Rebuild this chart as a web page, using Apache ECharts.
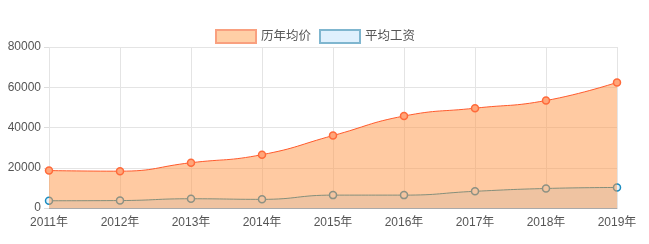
<!DOCTYPE html>
<html><head><meta charset="utf-8">
<script src="https://cdn.jsdelivr.net/npm/echarts@6/dist/echarts.min.js"></script>
<style>html,body{margin:0;padding:0;background:#fff}#c{width:649px;height:244px}</style>
</head><body><div id="c"></div>
<script>
var years = ['2011年','2012年','2013年','2014年','2015年','2016年','2017年','2018年','2019年'];
var avgPrice = [18600, 18300, 22500, 26500, 36000, 45700, 49600, 53400, 62400];
var avgWage = [3600, 3700, 4600, 4300, 6400, 6400, 8300, 9700, 10200];
var FONT = '"Liberation Sans", Arial, "Noto Sans CJK SC", sans-serif';
var chart = echarts.init(document.getElementById('c'));
chart.setOption({
  animation: false,
  textStyle: {fontFamily: FONT},
  legend: {
    top: 24, left: 210, itemWidth: 40, itemHeight: 13, itemGap: 8,
    textStyle: {color: '#555', fontSize: 12.5, fontFamily: FONT},
    data: [
      {name: '历年均价', icon: 'rect', itemStyle: {color: '#ffcfa6', borderColor: '#f9a07f', borderWidth: 2}},
      {name: '平均工资', icon: 'rect', itemStyle: {color: '#dff0fd', borderColor: '#7fb6cf', borderWidth: 2}}
    ]
  },
  grid: {left: 49, right: 32, top: 47, bottom: 36},
  xAxis: {
    type: 'category', boundaryGap: false, data: years,
    axisLine: {lineStyle: {color: '#aaa'}},
    axisTick: {show: false},
    axisLabel: {color: '#555', fontSize: 12, margin: 9, fontFamily: FONT},
    splitLine: {show: true, lineStyle: {color: '#e4e4e4'}}
  },
  yAxis: {
    type: 'value', min: 0, max: 80000, interval: 20000,
    axisLine: {show: false},
    axisTick: {show: true, length: 5, lineStyle: {color: '#ddd'}},
    axisLabel: {color: '#555', fontSize: 12, margin: 8, fontFamily: FONT, formatter: function (v) { return String(v); }},
    splitLine: {lineStyle: {color: '#e4e4e4'}}
  },
  series: [
    {
      name: '历年均价', type: 'line', smooth: true, z: 3, data: avgPrice,
      symbol: 'circle', symbolSize: 7,
      lineStyle: {color: '#ff5a2c', width: 1},
      itemStyle: {color: '#ffa67a', borderColor: '#ff6a3a', borderWidth: 1.5},
      areaStyle: {color: 'rgb(255,150,70)', opacity: 0.5}
    },
    {
      name: '平均工资', type: 'line', smooth: true, z: 2, data: avgWage,
      symbol: 'circle', symbolSize: 7,
      lineStyle: {color: '#0a88b0', width: 1},
      itemStyle: {color: '#e6f3fb', borderColor: '#1a8cc0', borderWidth: 1.5},
      areaStyle: {color: 'rgb(222,240,252)', opacity: 1}
    }
  ]
});
</script></body></html>
